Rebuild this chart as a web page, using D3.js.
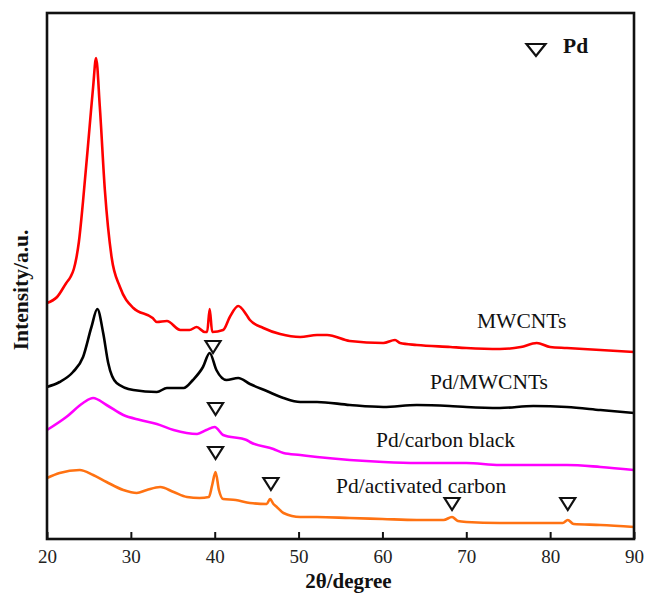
<!DOCTYPE html>
<html>
<head>
<meta charset="utf-8">
<script src="https://cdn.jsdelivr.net/npm/d3@7"></script>
<style>
  html, body { margin: 0; padding: 0; background: #fff; }
  svg { display: block; font-family: "Liberation Serif", "Times New Roman", serif; }
</style>
</head>
<body>
<svg id="chart" width="647" height="594"></svg>
<script>
// ---- Data (2θ in degrees, intensity in a.u.) ----
const xTicks = [20, 30, 40, 50, 60, 70, 80, 90];

const mwcnts = [
  [20.0,236],[21.2,242],[22.3,256],[22.8,262],[23.2,270],[23.5,281],[23.8,297],[24.3,338],
  [25.1,414],[25.5,452],[25.85,481],[26.3,432],[26.9,349],[27.7,282],[28.7,252],[30.3,231],
  [32.6,221],[33.1,217],[34.3,218],[35.9,209],[37.0,209],[37.85,212],[38.8,207],[39.1,207],
  [39.4,230],[39.7,207],[41.0,209],[41.8,222],[42.8,233],[43.8,224],[44.2,219],[45.8,211],
  [47.8,205],[50.2,202],[52.2,204],[53.4,204],[56.1,198],[60.1,196],[61.5,199],[62.1,196],
  [64.1,194],[68.1,192],[70.0,191],[74.0,190],[76.5,192],[78.4,196],[80.0,192],[82.0,191],
  [86.0,189],[90.0,187]
];

const pdMwcnts = [
  [20.0,152],[21.5,157],[23.1,167],[24.3,182],[25.3,212],[26.0,230],[26.7,206],[27.3,176],
  [28.3,156],[30.3,149],[33.1,147],[34.3,151],[36.3,151],[37.4,159],[38.6,172],[39.4,186],
  [40.2,169],[41.4,159],[42.8,161],[44.2,155],[46.2,148],[48.2,141],[50.2,137],
  [52.2,137],[56.1,134],[60.1,132],[64.1,134],[68.0,133],[70.0,132],[74.0,131],[78.0,133],
  [82.0,132],[86.0,129],[90.0,126]
];

const pdCarbonBlack = [
  [20.0,109],[22.3,122],[24.3,136],[25.5,141],[27.1,134],[29.1,124],[31.1,119],[33.1,115],
  [35.1,109],[37.9,105],[39.0,109],[40.0,112],[41.0,104],[43.8,99],[44.2,97],[47.0,90],
  [48.2,86],[50.2,84],[52.2,82],[56.1,79],[60.1,77],[64.1,76],[68.0,76],[70.0,76],
  [74.0,74],[78.0,74],[82.0,74],[86.0,72],[90.0,69]
];

const pdActivated = [
  [20.0,61],[21.5,66],[23.9,69],[25.5,64],[27.1,57],[29.1,49],[30.7,46],[31.9,49],
  [33.5,52],[35.1,47],[36.7,42],[38.2,41],[39.3,42],[39.7,54],[40.1,67],[40.5,49],
  [41.0,40],[42.5,39],[44.2,36],[46.2,35],[46.6,40],[47.0,35],[47.4,32],[48.2,26],
  [50.2,22],[52.2,22],[56.1,21],[60.0,20],[64.1,19],[67.3,19],[68.3,22],[69.0,18],
  [70.0,17],[74.0,16],[78.0,16],[81.5,16],[82.1,19],[82.8,15],[86.0,14],[90.0,12]
];

// Pd reflection markers [2θ, intensity level]
const pdMarkers = [[39.8,192],[40.1,130],[40.1,86],[46.7,55],[68.3,35],[82.1,35]];

const seriesNames = ["MWCNTs", "Pd/MWCNTs", "Pd/carbon black", "Pd/activated carbon"];
const seriesData = [mwcnts, pdMwcnts, pdCarbonBlack, pdActivated];
const seriesColors = ["#ff0000", "#000000", "#ff00ff", "#ff7212"];

// ---- Layout ----
const L = 47, R = 634, T = 13, B = 539;
const svg = d3.select("#chart");

const x = d3.scaleLinear().domain([20, 90]).range([L, R]);
const y = d3.scaleLinear().domain([0, 526]).range([B, T]);

const line = d3.line()
  .x(d => x(d[0]))
  .y(d => y(d[1]))
  .curve(d3.curveMonotoneX);

// curves
seriesData.forEach((s, i) => {
  svg.append("path")
    .datum(s)
    .attr("fill", "none")
    .attr("stroke", seriesColors[i])
    .attr("stroke-width", 2.6)
    .attr("stroke-linejoin", "round")
    .attr("d", line);
});

// labels
const labelPos = [[477, 328], [430, 389], [376, 447], [336, 493]];
seriesNames.forEach((n, i) => {
  svg.append("text")
    .attr("x", labelPos[i][0])
    .attr("y", labelPos[i][1])
    .attr("font-size", 21.5)
    .attr("fill", "#111")
    .text(n);
});

// triangle markers
function tri(cx, cy, w, h) {
  return `M${cx - w / 2},${cy - h / 2}L${cx + w / 2},${cy - h / 2}L${cx},${cy + h / 2}Z`;
}
svg.selectAll("path.pd")
  .data(pdMarkers)
  .enter().append("path")
  .attr("class", "pd")
  .attr("d", d => tri(x(d[0]), y(d[1]), 15, 12))
  .attr("fill", "#fff")
  .attr("stroke", "#111")
  .attr("stroke-width", 2.2);

// legend
svg.append("path")
  .attr("d", tri(536, 50, 19, 12))
  .attr("fill", "#fff")
  .attr("stroke", "#111")
  .attr("stroke-width", 2.2);
svg.append("text")
  .attr("x", 563).attr("y", 53)
  .attr("font-size", 21.5).attr("font-weight", "bold")
  .attr("fill", "#111")
  .text("Pd");

// x axis
const xAxis = d3.axisBottom(x).tickValues(xTicks).tickSize(-7).tickFormat(d3.format("d"));
const gx = svg.append("g").attr("transform", `translate(0,${B})`).call(xAxis);
gx.select(".domain").remove();
gx.selectAll(".tick line").attr("stroke", "#111").attr("stroke-width", 2);
gx.selectAll(".tick text")
  .attr("y", 11)
  .attr("font-size", 19)
  .attr("font-family", "'Liberation Serif', 'Times New Roman', serif")
  .attr("fill", "#222");

// frame
svg.append("rect")
  .attr("x", L).attr("y", T)
  .attr("width", R - L).attr("height", B - T)
  .attr("fill", "none")
  .attr("stroke", "#111")
  .attr("stroke-width", 2.6);

// axis titles
svg.append("text")
  .attr("x", (L + R) / 2 + 8).attr("y", 588)
  .attr("text-anchor", "middle")
  .attr("font-size", 21).attr("font-weight", "bold")
  .attr("fill", "#111")
  .text("2θ/degree");

svg.append("text")
  .attr("transform", "translate(28,290) rotate(-90)")
  .attr("text-anchor", "middle")
  .attr("font-size", 21.5).attr("font-weight", "bold")
  .attr("fill", "#111")
  .text("Intensity/a.u.");
</script>
</body>
</html>
